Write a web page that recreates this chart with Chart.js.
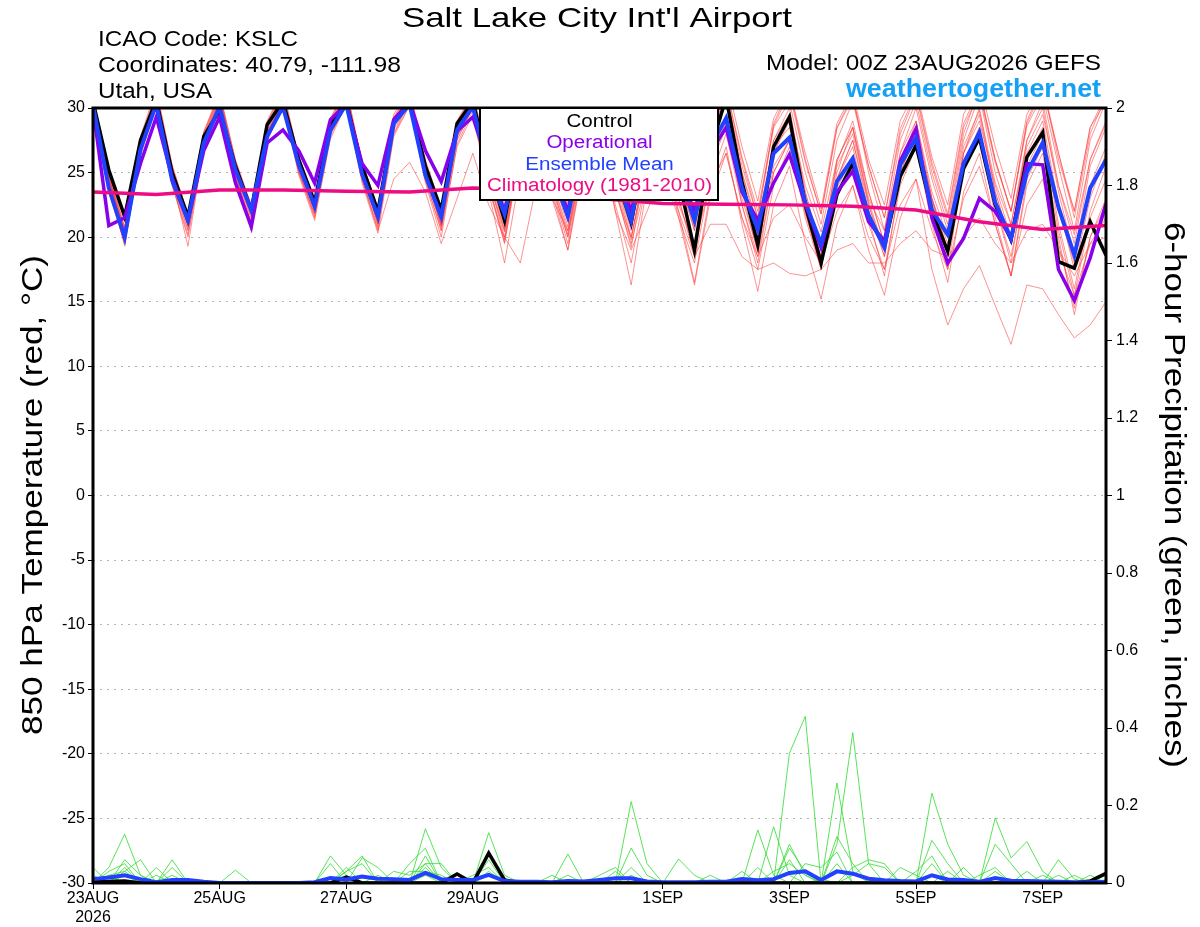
<!DOCTYPE html>
<html>
<head>
<meta charset="utf-8">
<script src="https://cdn.jsdelivr.net/npm/chart.js@4.4.1/dist/chart.umd.min.js"></script>
<style>
html, body { margin: 0; padding: 0; background: #fff; }
canvas { display: block; }
</style>
</head>
<body>
<canvas id="chart" width="1200" height="927"></canvas>
<script>
const FONT = '"Liberation Sans", Arial, Helvetica, sans-serif'

// 6-hourly steps from 00Z 23AUG2026 (65 steps = 16 days)
const stepHours = 6
const tickHours = [0, 48, 96, 144, 216, 264, 312, 360]
const tickLabels = [['23AUG', '2026'], '25AUG', '27AUG', '29AUG', '1SEP', '3SEP', '5SEP', '7SEP']

// 850 hPa temperature (C)
const controlTemp = [
  30.5, 25.2, 21.6, 27.5,  30.6, 25.0, 21.6, 27.8,  29.8, 25.5, 22.1, 28.7,  30.5, 26.0, 22.7, 28.8,
  30.5, 25.5, 22.0, 28.9,  30.5, 25.5, 22.1, 28.8,  30.5, 25.5, 21.3, 27.8,  30.3, 25.2, 21.8, 27.8,
  30.2, 25.0, 21.1, 27.5,  30.0, 24.5, 19.0, 26.7,  30.8, 24.3, 19.4, 27.0,  29.3, 22.5, 18.0, 23.3,
  25.7, 21.5, 19.3, 24.7,  27.1, 22.0, 18.9, 25.3,  27.7, 22.5, 19.8, 26.2,  28.1, 18.1, 17.6, 21.2,
  18.6
]
const operationalTemp = [
  30.0, 20.9, 21.5, 25.7,  29.3, 24.6, 21.3, 26.7,  29.3, 24.2, 20.8, 27.3,  28.3, 26.7, 24.2, 29.1,
  30.3, 25.7, 24.0, 29.1,  30.5, 26.7, 24.3, 28.2,  29.3, 25.5, 22.0, 27.5,  29.5, 25.5, 22.0, 27.5,
  29.5, 25.5, 22.0, 27.0,  29.0, 25.0, 22.0, 26.5,  28.5, 23.5, 21.3, 24.2,  26.4, 22.6, 19.2, 23.5,
  25.1, 21.2, 19.7, 25.9,  28.4, 21.5, 18.0, 19.9,  23.0, 22.0, 19.9, 25.7,  25.6, 17.5, 15.1, 18.4,
  22.6
]
const meanTemp = [
  30.2, 23.8, 20.0, 26.8,  30.3, 24.4, 21.3, 27.3,  30.1, 25.2, 22.1, 27.8,  30.1, 25.6, 22.4, 28.3,
  30.3, 24.9, 21.6, 28.8,  30.3, 24.8, 21.6, 28.3,  30.1, 25.0, 21.8, 27.5,  30.0, 25.0, 21.6, 27.5,
  30.0, 25.0, 21.3, 27.5,  29.8, 25.0, 21.3, 27.0,  29.2, 23.8, 20.6, 26.5,  27.7, 22.7, 19.5, 24.3,
  26.1, 21.7, 19.2, 25.6,  27.7, 22.1, 20.2, 25.7,  28.1, 22.7, 19.9, 25.0,  27.3, 22.3, 18.6, 23.8,
  26.0
]
// daily climatology 1981-2010, 23AUG .. 8SEP
const climTemp = [23.5, 23.3, 23.65, 23.65, 23.55, 23.5, 23.8, 23.6, 23.0, 22.6, 22.55, 22.5, 22.4, 22.1, 21.2, 20.6, 20.9]

// ensemble members (thin red)
const memberTemps = [
  [30.5,24.5,20.2,27.2, 31.0,25.0,21.0,27.8, 30.8,25.6,22.4,28.6, 31.0,26.0,22.8,28.9, 31.2,25.4,21.8,29.0, 31.0,25.6,21.5,28.5, 30.6,25.0,21.5,27.8, 30.5,25.2,21.4,27.8,
   30.6,25.5,21.8,28.0, 30.8,25.8,22.0,28.2, 30.6,25.0,21.0,27.5, 29.5,24.0,20.4,26.0, 28.5,23.0,20.5,26.5, 29.0,23.5,20.0,27.0, 29.8,24.2,21.0,27.0, 29.5,24.0,20.2,26.0, 28.8],
  [30.0,23.5,19.5,26.5, 30.5,24.2,20.5,27.0, 30.2,24.8,21.0,27.5, 30.5,25.0,21.8,28.0, 30.8,24.5,20.8,28.5, 30.8,24.4,20.5,27.8, 30.2,24.0,19.8,27.0, 30.0,24.4,20.2,27.2,
   30.0,24.0,19.8,26.5, 29.5,23.8,19.5,26.0, 29.0,22.5,18.5,25.0, 27.5,21.8,17.8,23.8, 26.2,21.0,17.5,24.0, 27.0,21.0,16.5,23.5, 26.5,21.0,17.0,24.5, 27.0,20.5,15.5,21.5, 24.5],
  [30.8,25.0,20.8,27.8, 31.5,25.5,21.8,28.2, 31.2,26.0,22.5,29.0, 31.5,26.2,23.0,29.2, 31.6,25.8,22.3,29.5, 31.5,26.0,22.3,29.0, 31.2,26.0,22.5,28.5, 31.5,26.2,22.6,28.8,
   31.8,26.8,23.0,29.0, 32.0,27.0,23.2,29.5, 32.2,27.0,22.8,29.2, 31.5,26.5,22.2,28.8, 31.2,26.0,22.5,29.0, 31.5,26.2,22.5,29.5, 32.0,27.0,23.0,29.5, 31.8,26.0,22.0,28.5, 31.0],
  [30.2,24.0,19.8,26.8, 30.6,24.6,21.0,27.2, 30.4,25.0,21.5,28.0, 30.6,25.4,22.2,28.2, 30.5,25.0,21.0,28.0, 30.2,24.5,20.5,27.0, 29.5,23.5,18.0,25.0, 28.0,23.0,19.0,25.5,
   28.5,22.0,16.3,24.0, 27.5,22.0,16.5,23.5, 27.0,21.0,15.8,22.5, 25.5,19.5,15.2,21.0, 24.0,19.0,15.5,21.5, 24.5,17.5,13.2,16.0, 17.8,14.7,11.7,16.3, 16.0,14.0,12.2,13.2, 15.0],
  [30.0,24.2,20.5,27.0, 30.8,25.2,21.2,27.5, 30.6,25.4,21.8,28.3, 30.8,25.8,22.5,28.6, 30.8,25.2,21.5,28.6, 30.5,25.0,21.2,28.2, 30.0,24.5,20.5,26.0, 27.5,24.0,20.0,26.0,
   28.0,23.5,19.5,24.5, 25.5,22.0,18.5,21.0, 21.0,18.5,17.5,18.0, 17.2,17.0,17.5,19.0, 19.5,18.0,18.0,19.5, 20.5,19.0,18.5,20.0, 21.5,19.5,18.0,20.5, 21.0,19.0,17.0,19.5, 20.0],
  [30.4,24.8,20.0,27.0, 30.9,24.8,20.8,27.6, 30.6,25.2,22.0,28.2, 30.9,25.6,22.0,28.5, 31.0,25.2,21.2,28.8, 30.8,25.2,21.0,28.0, 30.4,24.8,21.0,27.5, 30.2,25.0,21.5,27.5,
   30.3,24.5,20.5,27.5, 30.2,24.5,20.5,27.0, 30.5,24.5,20.0,26.5, 29.0,23.5,19.0,25.5, 28.0,22.8,19.0,25.5, 28.5,23.0,19.5,26.5, 29.5,23.5,19.5,26.0, 28.5,22.0,18.0,24.0, 27.0],
  [30.6,24.6,20.6,27.5, 31.2,25.4,21.5,28.0, 31.0,25.8,22.3,28.8, 31.2,26.0,22.6,29.0, 31.4,25.6,22.0,29.2, 31.2,25.8,21.8,28.8, 31.0,25.5,21.6,28.0, 31.0,25.8,22.0,28.5,
   31.2,26.0,22.2,28.5, 31.0,25.8,21.8,28.5, 31.5,26.0,21.5,28.5, 30.5,25.0,21.0,27.5, 30.5,25.5,21.5,28.0, 31.0,25.5,21.5,28.5, 31.2,25.8,22.0,28.8, 31.5,26.5,21.5,28.0, 31.0],
  [30.1,23.8,19.6,26.4, 30.4,24.0,20.2,26.8, 30.0,24.6,21.2,27.6, 30.3,25.0,21.5,27.8, 30.4,24.4,20.6,28.0, 30.6,24.8,20.8,27.5, 30.0,24.0,19.5,26.5, 29.0,23.5,19.0,26.0,
   28.5,22.5,18.0,24.5, 27.0,21.5,16.3,23.0, 26.5,21.5,17.5,24.0, 27.0,22.0,18.5,24.5, 27.5,22.5,19.0,25.0, 28.0,22.5,18.5,25.5, 28.5,21.5,17.0,24.0, 26.5,20.0,14.0,20.0, 23.0],
  [30.3,24.3,20.2,27.0, 30.7,24.7,20.9,27.3, 30.4,25.2,21.7,28.0, 30.5,25.5,22.0,28.0, 30.2,24.5,20.5,24.5, 25.8,23.5,19.5,23.0, 26.5,22.5,20.0,18.0, 24.0,23.0,20.5,26.0,
   28.5,23.5,20.0,25.5, 27.5,22.5,19.5,24.0, 26.5,21.5,18.5,21.5, 22.5,20.0,18.0,22.0, 24.0,20.0,17.5,22.5, 24.5,20.5,17.5,23.0, 25.5,21.0,17.0,22.5, 24.5,19.0,15.5,19.5, 21.5],
  [30.2,24.2,19.3,26.8, 30.5,24.5,19.3,27.0, 30.2,25.0,20.5,27.8, 30.6,25.2,21.6,28.4, 30.8,25.0,21.0,28.5, 31.0,25.0,20.8,28.0, 30.8,25.0,20.6,27.6, 30.6,25.0,20.8,27.6,
   30.5,25.2,21.0,27.5, 30.6,25.0,20.5,27.5, 30.8,24.5,20.0,27.5, 30.0,23.5,19.0,25.8, 29.0,23.5,19.5,26.5, 30.0,24.5,20.5,27.5, 31.0,25.0,21.0,27.5, 30.5,24.0,19.5,26.0, 29.0],
  [30.5,24.6,20.4,27.3, 31.0,25.1,21.2,27.7, 30.7,25.5,22.0,28.5, 31.0,25.8,22.4,28.7, 31.1,25.3,21.7,28.9, 30.9,25.4,21.3,28.3, 30.7,25.3,21.2,28.3, 31.0,25.8,21.8,28.5,
   31.2,25.5,21.5,28.0, 31.0,25.5,21.0,28.0, 31.2,25.5,21.5,28.8, 31.5,26.0,21.8,28.5, 31.0,25.0,20.5,27.5, 30.5,25.0,21.0,28.0, 31.5,26.0,22.0,29.0, 31.8,26.5,22.0,28.5, 30.5],
  [30.3,24.4,20.0,26.9, 30.7,24.9,21.1,27.5, 30.5,25.3,21.9,28.1, 30.7,25.5,22.1,28.3, 30.9,25.1,21.4,28.6, 30.7,25.2,21.0,27.8, 30.3,24.5,20.0,27.0, 30.0,24.5,20.5,27.0,
   29.5,24.5,20.0,26.0, 28.5,23.0,18.5,25.5, 28.5,23.0,19.0,25.5, 27.5,21.5,17.5,24.5, 27.0,21.5,17.0,24.5, 27.5,21.5,17.5,25.5, 28.5,22.5,18.5,25.0, 27.0,19.5,14.5,20.0, 22.5],
  [30.1,24.0,19.8,26.6, 30.3,24.3,20.6,27.1, 30.1,24.9,21.4,27.9, 30.4,25.1,21.8,28.1, 30.6,24.8,21.1,28.3, 30.4,24.9,20.9,27.6, 30.1,24.3,20.4,26.8, 29.5,24.0,20.0,26.5,
   29.5,23.8,19.2,26.0, 29.0,23.0,18.8,25.8, 29.5,23.5,18.8,26.5, 29.5,23.0,18.5,25.0, 28.5,22.5,18.5,25.5, 29.0,23.0,19.0,26.5, 30.0,23.5,19.5,26.5, 29.0,22.5,17.5,23.0, 26.5],
  [30.4,24.7,20.5,27.4, 31.0,25.3,21.4,27.9, 30.9,25.7,22.2,28.7, 31.1,25.9,22.5,28.8, 31.1,25.5,21.9,29.0, 31.0,25.5,21.6,28.6, 30.8,25.2,21.0,28.0, 30.8,25.4,21.2,28.2,
   30.8,25.5,21.0,28.2, 31.0,25.2,20.8,28.0, 31.0,25.0,20.5,27.0, 28.5,23.0,19.0,26.0, 28.5,23.5,19.5,26.0, 28.0,22.8,19.0,26.5, 29.0,24.0,20.0,27.5, 30.0,23.5,18.5,25.5, 28.5],
  [29.8,23.5,19.5,26.3, 30.2,24.0,20.0,26.8, 30.0,24.5,21.0,27.4, 30.2,24.8,21.3,27.6, 30.3,24.2,20.3,27.8, 30.2,24.2,20.0,27.2, 29.8,23.8,19.6,26.6, 29.6,23.8,19.5,26.0,
   28.0,22.0,19.0,22.0, 25.0,21.5,18.0,24.5, 28.0,22.5,18.0,25.0, 27.5,22.0,17.5,24.5, 27.5,22.0,18.5,25.0, 28.0,23.0,19.0,25.5, 28.0,22.5,18.0,25.5, 28.0,21.0,16.0,22.0, 25.5],
  [30.6,24.9,20.7,27.6, 31.3,25.6,21.6,28.1, 31.1,25.9,22.3,28.9, 31.3,26.1,22.7,29.1, 31.4,25.7,22.2,29.3, 31.3,25.7,22.0,28.9, 31.0,25.6,21.8,28.6, 31.2,26.0,22.2,28.8,
   31.4,26.2,22.4,28.8, 31.4,26.0,22.2,28.8, 31.6,26.2,22.0,28.6, 31.2,25.8,21.8,28.4, 30.8,25.5,21.5,28.4, 31.2,25.8,21.8,28.8, 31.5,26.0,22.0,28.6, 31.0,25.5,20.5,27.5, 30.5]
]

// 6-hour precipitation (inches)
const controlPrecip = [
  0.003,0.004,0.005,0, 0,0,0,0, 0,0,0,0, 0,0,0,0, 0.015,0,0,0, 0,0,0,0.023, 0,0.077,0.008,0, 0,0,0,0,
  0,0,0,0, 0,0,0,0, 0,0,0,0, 0,0,0,0, 0,0,0,0, 0,0,0,0, 0,0,0,0, 0,0,0,0.005, 0.025
]
const meanPrecip = [
  0.01,0.014,0.02,0.01, 0.002,0.008,0.008,0.003, 0,0,0,0, 0,0,0.002,0.013, 0.009,0.017,0.011,0.01, 0.008,0.026,0.01,0.008,
  0.008,0.021,0.005,0.003, 0.003,0.002,0.005,0.004, 0.008,0.012,0.012,0.004, 0.002,0.002,0.002,0.003, 0.003,0.01,0.007,0.01,
  0.026,0.03,0.008,0.03, 0.024,0.011,0.007,0.005, 0.004,0.02,0.009,0.008, 0.003,0.013,0.006,0.005, 0.004,0.003,0.002,0.002, 0.003
]
const memberPrecips = [
  [0,0.04,0.126,0.02, 0,0,0,0, 0,0,0,0, 0,0,0,0, 0,0,0,0, 0,0.05,0,0, 0,0,0,0, 0,0,0,0,
   0,0,0.21,0.05, 0,0,0,0, 0,0,0,0, 0.335,0.43,0,0, 0,0,0,0, 0,0.02,0,0, 0,0,0,0, 0,0,0,0, 0],
  [0.04,0,0.06,0.02, 0,0.06,0,0, 0,0,0,0, 0,0,0,0, 0.03,0.07,0,0, 0,0.14,0.04,0, 0,0,0,0, 0,0,0,0,
   0,0,0,0, 0,0,0,0, 0,0,0.137,0.02, 0,0,0,0.258, 0.03,0,0,0, 0,0.232,0.1,0.02, 0,0,0,0, 0,0,0,0, 0],
  [0,0,0.04,0, 0.04,0,0,0, 0,0,0,0, 0,0,0,0.07, 0.02,0,0,0, 0.05,0.09,0,0, 0,0.13,0.02,0, 0,0,0,0,
   0,0,0,0, 0,0.062,0.02,0, 0,0,0,0.145, 0.02,0,0,0.1, 0.388,0.05,0,0, 0,0,0,0, 0,0.168,0.065,0.107, 0.03,0,0,0, 0],
  [0,0.03,0.05,0, 0,0,0,0, 0,0.033,0,0, 0,0,0,0, 0,0.065,0.04,0, 0,0.07,0,0, 0,0.08,0,0, 0,0,0.075,0,
   0,0.03,0,0, 0,0,0,0, 0,0,0,0, 0.1,0.02,0,0.05, 0,0,0,0, 0,0.11,0.05,0, 0,0,0,0, 0,0.06,0.01,0, 0],
  [0,0,0.03,0.06, 0,0.04,0,0, 0,0,0,0, 0,0,0,0.05, 0,0,0,0.03, 0.02,0.05,0.05,0, 0,0.06,0,0, 0,0,0,0,
   0,0,0.09,0.02, 0,0,0,0, 0,0,0.04,0, 0.09,0.03,0,0, 0.04,0.06,0.05,0, 0,0.05,0,0, 0,0.1,0.05,0, 0,0,0,0.02, 0],
  [0,0.02,0.03,0, 0,0,0,0, 0,0,0,0, 0,0,0,0, 0.03,0.05,0,0, 0,0.04,0,0, 0.02,0.04,0,0, 0,0.02,0,0,
   0,0,0.04,0, 0,0,0,0.02, 0,0,0,0, 0,0.05,0.04,0.08, 0,0,0,0, 0.03,0.07,0,0, 0.02,0.04,0,0, 0.02,0,0.02,0, 0],
  [0.02,0,0.02,0, 0.02,0,0,0, 0,0,0,0, 0,0,0,0, 0.04,0,0,0, 0.03,0.03,0.02,0, 0,0.03,0,0, 0,0,0,0,
   0.02,0.04,0,0, 0,0,0,0, 0,0,0,0.03, 0.05,0.02,0,0.12, 0.05,0,0,0.04, 0.02,0,0,0.04, 0,0.03,0,0, 0,0,0,0, 0.02],
  [0,0.02,0,0.01, 0,0.02,0,0, 0,0,0,0, 0,0,0,0, 0,0,0.02,0, 0,0.02,0,0, 0,0.02,0.01,0, 0,0,0.02,0,
   0,0,0.02,0, 0,0,0,0, 0,0.03,0,0, 0.06,0,0.01,0, 0.02,0.05,0.04,0, 0,0,0.03,0, 0,0,0,0.03, 0,0.02,0,0, 0]
]

function series(values, step) {
  return values.map(function(v, i) { return { x: i * step, y: v } })
}

function line(values, step, color, width, axis, order) {
  return {
    data: series(values, step),
    borderColor: color,
    borderWidth: width,
    pointRadius: 0,
    tension: 0,
    fill: false,
    yAxisID: axis,
    order: order,
    clip: 1
  }
}

const datasets = []
memberTemps.forEach(function(m) { datasets.push(line(m, stepHours, 'rgba(255, 60, 60, 0.8)', 0.7, 'y', 10)) })
memberPrecips.forEach(function(m) { datasets.push(line(m, stepHours, '#2fdc2f', 0.8, 'yp', 9)) })
datasets.push(line(controlPrecip, stepHours, '#000000', 3.5, 'yp', 8))
datasets.push(line(meanPrecip, stepHours, '#2141ff', 4, 'yp', 7))
datasets.push(line(controlTemp, stepHours, '#000000', 3.5, 'y', 4))
datasets.push(line(operationalTemp, stepHours, '#8a00e8', 3.5, 'y', 3))
datasets.push(line(meanTemp, stepHours, '#2141ff', 4, 'y', 2))
datasets.push(line(climTemp, 24, '#ee0c84', 3.5, 'y', 1))

// draw text stretched horizontally to a given width (the original uses a wide face)
function wideText(c, text, x, y, font, width, align) {
  c.font = font
  const s = width / c.measureText(text).width
  c.save()
  c.translate(x, y)
  c.scale(s, 1)
  c.textAlign = align
  c.fillText(text, 0, 0)
  c.restore()
}

const decorPlugin = {
  id: 'decor',
  afterDraw(chart) {
    const c = chart.ctx
    const a = chart.chartArea
    c.save()
    c.textBaseline = 'middle'
    // frame
    c.strokeStyle = '#000'
    c.lineWidth = 3
    c.strokeRect(a.left, a.top, a.right - a.left, a.bottom - a.top)

    // legend box
    c.fillStyle = '#fff'
    c.fillRect(480, 108, 238, 92)
    c.lineWidth = 2
    c.strokeRect(480, 108, 238, 92)
    const lf = '18px ' + FONT
    c.font = lf
    const ls = 225 / c.measureText('Climatology (1981-2010)').width
    const legend = [['Control', '#000'], ['Operational', '#8a00e8'], ['Ensemble Mean', '#2141ff'], ['Climatology (1981-2010)', '#ee0c84']]
    legend.forEach(function(l, i) {
      c.fillStyle = l[1]
      c.font = lf
      wideText(c, l[0], 599.5, 122 + i * 21.3, lf, c.measureText(l[0]).width * ls, 'center')
    })

    // titles
    c.fillStyle = '#000'
    wideText(c, "Salt Lake City Int'l Airport", 597, 19, '28px ' + FONT, 390, 'center')
    wideText(c, 'ICAO Code: KSLC', 98, 40, '22px ' + FONT, 200, 'left')
    wideText(c, 'Coordinates: 40.79, -111.98', 98, 66, '22px ' + FONT, 303, 'left')
    wideText(c, 'Utah, USA', 98, 92, '22px ' + FONT, 114, 'left')
    wideText(c, 'Model: 00Z 23AUG2026 GEFS', 1101, 64, '22px ' + FONT, 335, 'right')
    c.fillStyle = '#14a0f5'
    wideText(c, 'weathertogether.net', 1101, 90, 'bold 25px ' + FONT, 255, 'right')

    // axis titles
    c.fillStyle = '#000'
    c.save()
    c.translate(34, 495)
    c.rotate(-Math.PI / 2)
    wideText(c, '850 hPa Temperature (red, °C)', 0, 0, '30px ' + FONT, 480, 'center')
    c.restore()
    c.save()
    c.translate(1173, 495)
    c.rotate(Math.PI / 2)
    wideText(c, '6-hour Precipitation (green, inches)', 0, 0, '30px ' + FONT, 546, 'center')
    c.restore()
    c.restore()
  }
}

new Chart(document.getElementById('chart'), {
  type: 'line',
  data: { datasets: datasets },
  plugins: [decorPlugin],
  options: {
    responsive: false,
    animation: false,
    devicePixelRatio: 1,
    layout: { padding: { top: 108, left: 0, right: 0, bottom: 0 } },
    plugins: { legend: { display: false }, tooltip: { enabled: false } },
    scales: {
      x: {
        type: 'linear',
        min: 0,
        max: 384,
        afterBuildTicks(scale) { scale.ticks = tickHours.map(function(h) { return { value: h } }) },
        afterFit(scale) { scale.height = 44 },
        ticks: {
          autoSkip: false,
          maxRotation: 0,
          padding: 0,
          color: '#000',
          font: { family: FONT, size: 16 },
          callback(v) { return tickLabels[tickHours.indexOf(v)] }
        },
        grid: { drawOnChartArea: false, tickLength: 6, color: '#000', lineWidth: 1 },
        border: { display: false }
      },
      y: {
        position: 'left',
        min: -30,
        max: 30,
        afterFit(scale) { scale.width = 93 },
        ticks: { stepSize: 5, padding: 3, color: '#000', font: { family: FONT, size: 16 } },
        grid: { drawTicks: true, tickLength: 5, tickColor: '#000', tickBorderDash: [], color: '#b4b4b4', lineWidth: 1 },
        border: { display: false, dash: [2, 5] }
      },
      yp: {
        position: 'right',
        min: 0,
        max: 2,
        afterFit(scale) { scale.width = 94 },
        ticks: {
          stepSize: 0.2,
          padding: 4,
          color: '#000',
          font: { family: FONT, size: 16 },
          callback(v) { return String(Number(v.toFixed(1))) }
        },
        grid: { drawOnChartArea: false, tickLength: 6, color: '#000', lineWidth: 1 },
        border: { display: false }
      }
    }
  }
})
</script>
</body>
</html>
